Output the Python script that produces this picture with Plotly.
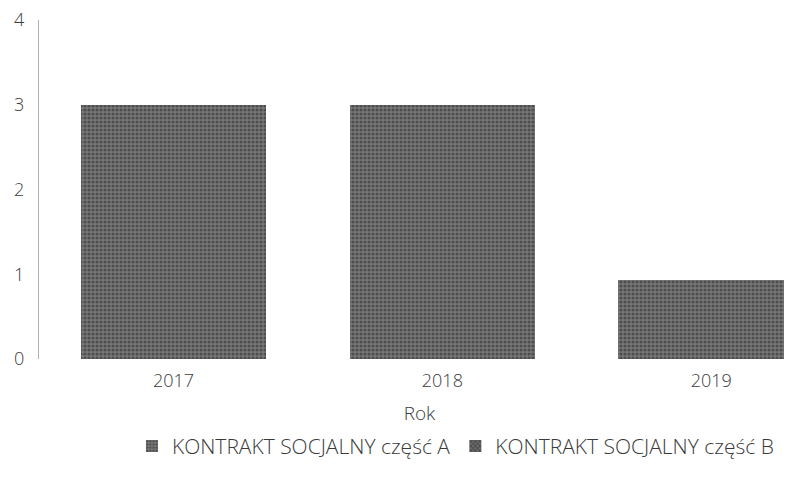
import plotly.graph_objects as go

years = ["2017", "2018", "2019"]
czesc_a = [3, 3, 0.93]
czesc_b = [0, 0, 0]
y_ticks = [0, 1, 2, 3, 4]

font = dict(family="Open Sans, DejaVu Sans, sans-serif", color="#3a3a3a", weight=300)

fig = go.Figure()
fig.add_trace(go.Bar(x=years, y=czesc_a, name="KONTRAKT SOCJALNY część A",
                     marker=dict(color="#5a5a5a", line=dict(width=0),
                                 pattern=dict(shape=".", fgcolor="#262626", bgcolor="#777777",
                                              size=4, solidity=0.5)),
                     width=0.69))
fig.add_trace(go.Bar(x=years, y=czesc_b, name="KONTRAKT SOCJALNY część B",
                     marker=dict(color="#505050", line=dict(width=0),
                                 pattern=dict(shape="x", fgcolor="#222222", bgcolor="#6e6e6e",
                                              size=4, solidity=0.5)),
                     width=0.69))

fig.update_layout(
    width=792, height=477,
    barmode="stack",
    paper_bgcolor="white", plot_bgcolor="white",
    margin=dict(l=31, r=0, t=12, b=126, autoexpand=False),
    font=dict(size=18, **font),
    showlegend=True,
    legend=dict(orientation="h", xref="container", yref="container",
                x=0.565, xanchor="center", y=0.081, yanchor="middle",
                font=dict(size=21, **font), itemwidth=30, traceorder="normal"),
    xaxis=dict(type="category", range=[-0.5, 2.33], showgrid=False, showline=False,
               ticks="outside", ticklen=5, tickcolor="rgba(0,0,0,0)",
               tickfont=dict(size=18, **font),
               title=dict(text="Rok", font=dict(size=19, **font), standoff=18)),
    yaxis=dict(range=[0, 4], tickvals=y_ticks, showgrid=False, zeroline=False,
               showline=True, linecolor="#b0b0b0", linewidth=1,
               ticks="", ticklabelstandoff=10, ticklabeloverflow="allow",
               tickfont=dict(size=18, **font)),
)

fig.write_html("out.html")
